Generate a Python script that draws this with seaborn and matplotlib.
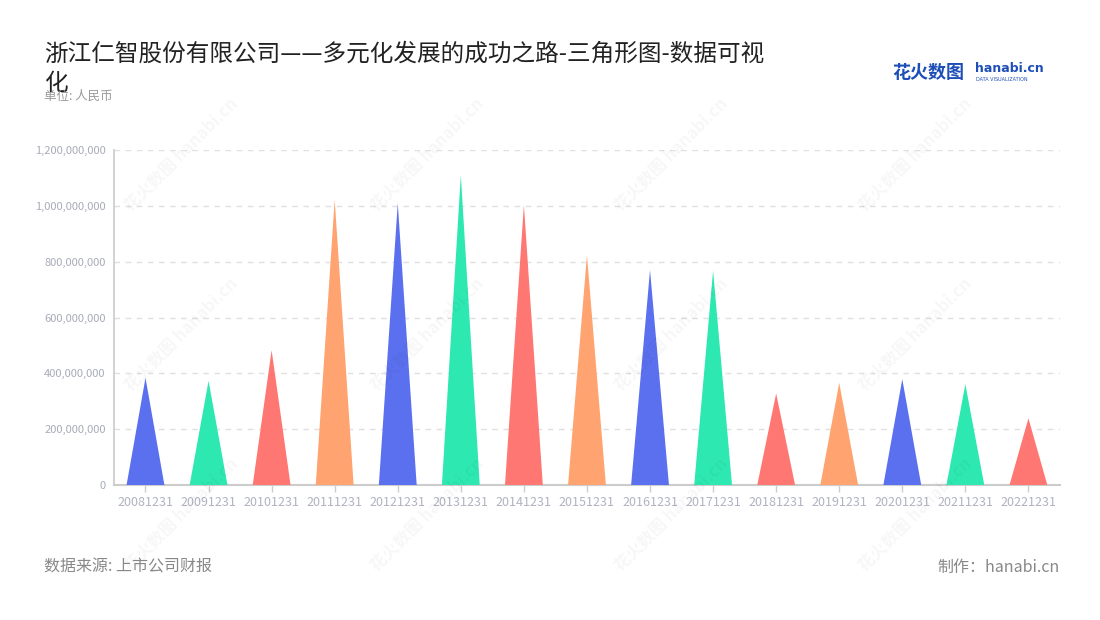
import numpy as np
import pandas as pd
import seaborn as sns
import matplotlib.pyplot as plt
from matplotlib.patches import Polygon
from matplotlib.ticker import FuncFormatter

# Data (unit: RMB)
years = ["20081231", "20091231", "20101231", "20111231", "20121231",
         "20131231", "20141231", "20151231", "20161231", "20171231",
         "20181231", "20191231", "20201231", "20211231", "20221231"]
values = [384e6, 373e6, 483e6, 1023e6, 1009e6,
          1110e6, 1003e6, 824e6, 770e6, 768e6,
          328e6, 366e6, 379e6, 361e6, 239e6]
palette = ["#5A70EE", "#2EE8B2", "#FF7772", "#FFA470"]

title = "浙江仁智股份有限公司——多元化发展的成功之路-三角形图-数据可视\n化"
unit_text = "单位: 人民币"
source_text = "数据来源: 上市公司财报"
maker_text = "制作：hanabi.cn"

df = pd.DataFrame({"year": years, "value": values})
colors = [palette[i % len(palette)] for i in range(len(years))]

sns.set_theme(style="white")
plt.rcParams["font.family"] = ["Noto Sans CJK SC", "DejaVu Sans"]

fig = plt.figure(figsize=(11, 6.2), dpi=100)
ax = fig.add_axes([0.1036, 0.2177, 0.86, 0.5403])

sns.barplot(data=df, x="year", y="value", hue="year", palette=colors,
            width=0.6, legend=False, ax=ax)

# turn every bar into a triangle with the same base and height
for patch, c in zip(ax.patches, colors):
    x0 = patch.get_x()
    w = patch.get_width()
    h = patch.get_height()
    tri = Polygon([(x0, 0), (x0 + w / 2, h), (x0 + w, 0)], closed=True,
                  facecolor=c, edgecolor="none", zorder=3)
    ax.add_patch(tri)
    patch.set_visible(False)

ax.set_ylim(0, 1.2e9)
ax.set_yticks(np.arange(0, 1.2e9 + 1, 2e8))
ax.yaxis.set_major_formatter(FuncFormatter(lambda v, p: f"{int(v):,}"))
ax.set_xlabel("")
ax.set_ylabel("")
ax.grid(axis="y", color="#E0E0E0", linestyle=(0, (4, 4)), linewidth=1)
ax.set_axisbelow(True)

for s in ["top", "right"]:
    ax.spines[s].set_visible(False)
ax.spines["left"].set_color("#CCCCCC")
ax.spines["bottom"].set_color("#CCCCCC")
ax.spines["bottom"].set_linewidth(1.5)
ax.tick_params(axis="x", colors="#B0B3C0", labelsize=9, length=5,
               width=1, direction="out", bottom=True, pad=3)
ax.tick_params(axis="x", color="#CCCCCC")
ax.tick_params(axis="y", colors="#A8ABB8", labelsize=8, length=0, pad=6)

# faint watermarks
for wx in [0.165, 0.388, 0.61, 0.832]:
    for wy in [0.75, 0.46, 0.17]:
        fig.text(wx, wy, "花火数图 hanabi.cn", rotation=45, fontsize=12,
                 color="#000000", alpha=0.035, ha="center", va="center",
                 fontweight="bold")

fig.text(0.04, 0.932, title, fontsize=17, color="#222222", va="top",
         linespacing=1.4)
fig.text(0.04, 0.845, unit_text, fontsize=9, color="#999999", va="center")
fig.text(0.04, 0.085, source_text, fontsize=11.5, color="#888888", va="center")
fig.text(0.9636, 0.085, maker_text, fontsize=11.5, color="#888888",
         va="center", ha="right")

# logo
fig.text(0.811, 0.883, "花火数图", fontsize=13, color="#1E4FB8",
         fontweight="bold", va="center")
fig.text(0.886, 0.889, "hanabi.cn", fontsize=9, color="#1E4FB8",
         fontweight="bold", va="center", family=["DejaVu Sans"])
fig.text(0.887, 0.871, "DATA VISUALIZATION", fontsize=3.5, color="#1E4FB8",
         va="center", family=["DejaVu Sans"])

fig.savefig("out.png", dpi=100)
